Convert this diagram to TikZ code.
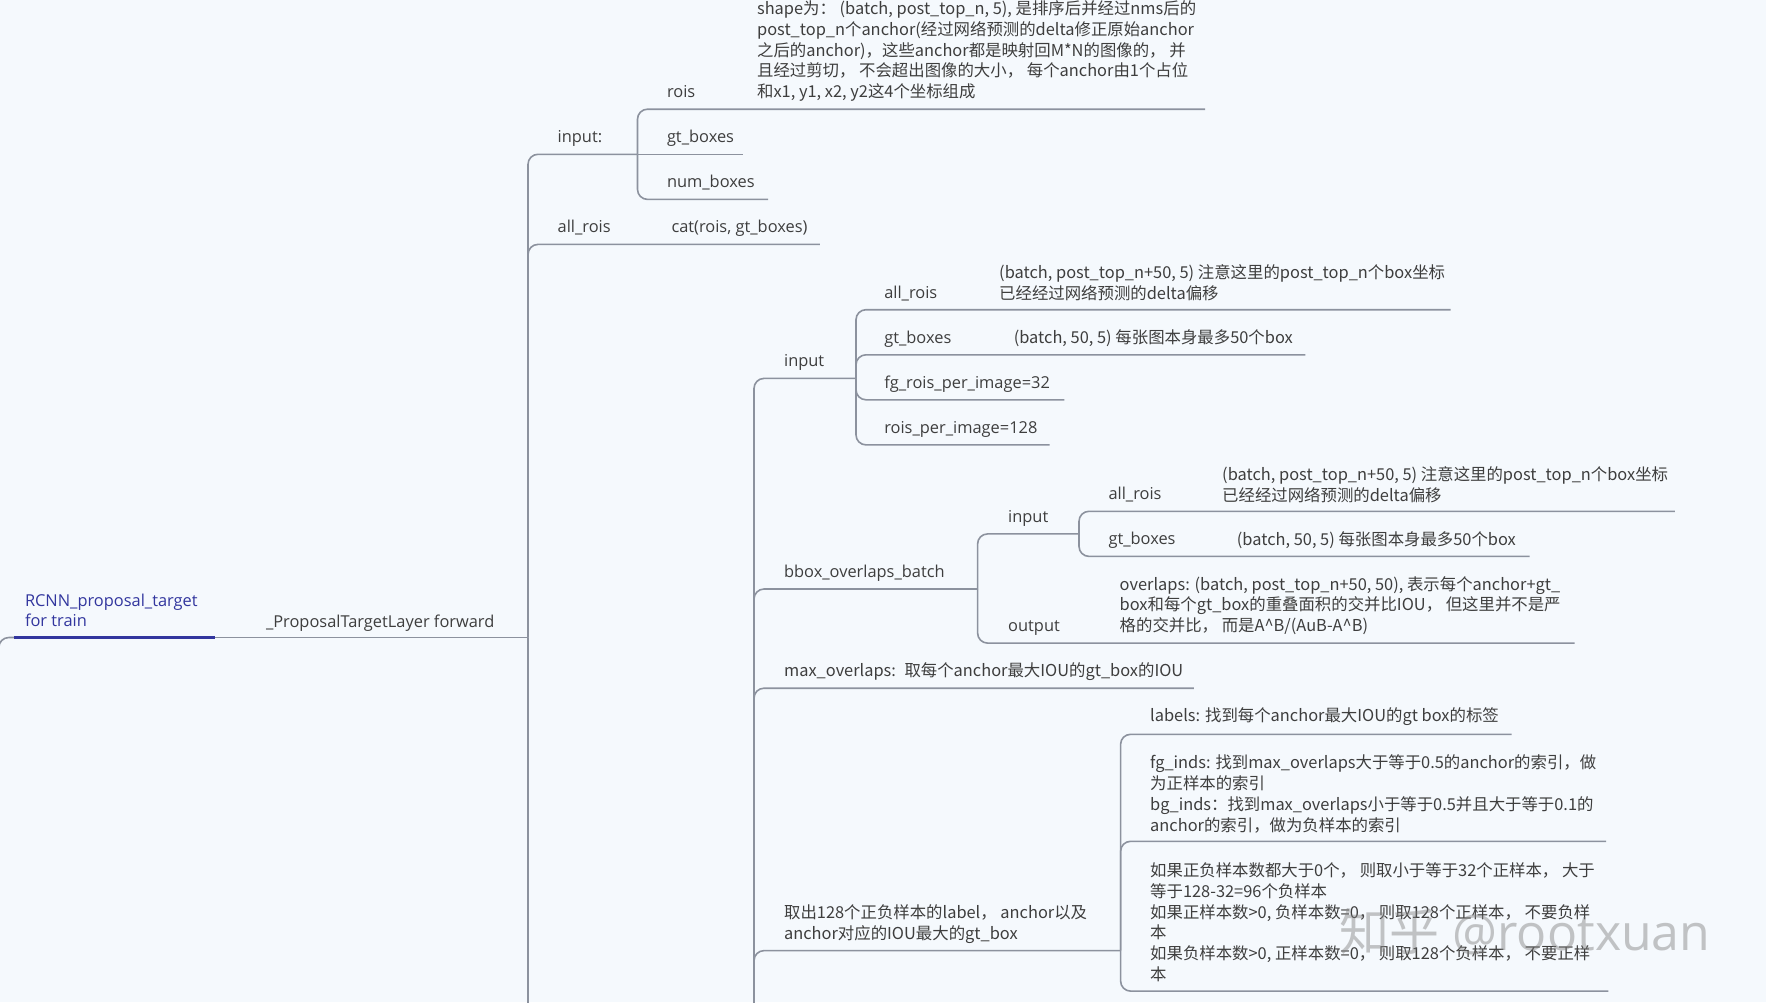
\documentclass[tikz,border=0pt]{standalone}
\usepackage{fontspec}
\setmainfont{Open Sans}
\newfontfamily\cjk{Noto Sans CJK SC}
\usetikzlibrary{positioning}
\definecolor{bgc}{RGB}{245,249,253}
\definecolor{lnk}{RGB}{140,146,158}
\definecolor{txt}{RGB}{62,62,62}
\definecolor{rootblue}{RGB}{50,54,158}

\begin{document}
\begin{tikzpicture}[x=1pt, y=-1pt,
  lbl/.style={anchor=west, inner sep=0pt, text=txt, font=\fontsize{16.4}{20.8}\selectfont, text height=13.5pt, text depth=0.5pt},
  zh/.style={anchor=west, inner sep=0pt, text=txt, align=left, yshift=-1.5pt, font=\cjk\fontsize{16.4}{20.8}\selectfont},
  rootlbl/.style={anchor=west, inner sep=0pt, text=rootblue, align=left, font=\fontsize{16.4}{20.3}\selectfont},
  wmark/.style={inner sep=0pt, text=gray, opacity=0.45, font=\fontsize{50}{50}\selectfont},
  link/.style={draw=lnk, line width=1.6pt, rounded corners=10pt},
  rootline/.style={draw=rootblue, line width=2.6pt}
]

\fill[bgc] (0,0) rectangle (1766,1002);
\useasboundingbox (0,0) rectangle (1766,1002);

% junctions of the branches
\foreach \n/\x/\y in {jroot/-1.2/1010, jfwd/528/637.5, jin/637.5/154.3, jbig/754/1010,
    jin2/856/378.4, jbbox/977.6/589, jin3/1079/533.9, jpick/1120.6/950.6}
  \coordinate (\n) at (\x,\y);

% right ends of the underlines
\foreach \n/\x/\y in {root-w/14/637.5, root-e/215/637.5, fwd-s/528/1010,
    rois-e/1205/109.2, gtb-e/743.3/154.3, numb-e/768.1/199.4, cat-e/819.9/244.4,
    allr2-e/1450.6/309.7, gtb2-e/1305.4/354.8, fgpi-e/1064.3/399.8, rpi-e/1049.7/444.9,
    allr3-e/1674.8/511.3, gtb3-e/1529.5/556.4, outp-e/1574.5/643.1, maxov-e/1193.9/688.2,
    lab-e/1511.5/734.3, fgbg-e/1606.1/841.3, cases-e/1608.3/991.1}
  \coordinate (\n) at (\x,\y);

\foreach \j/\e in {jroot/root-w, jfwd/jin, jfwd/cat-e, jin/rois-e, jin/numb-e,
    jbig/jin2, jbig/jbbox, jbig/maxov-e, jbig/jpick,
    jin2/allr2-e, jin2/gtb2-e, jin2/fgpi-e, jin2/rpi-e,
    jbbox/jin3, jbbox/outp-e, jin3/allr3-e, jin3/gtb3-e,
    jpick/lab-e, jpick/fgbg-e, jpick/cases-e}
  \draw[link] (\j) |- (\e);
\draw[link] (jin) -- (gtb-e);
\draw[link] (root-e) -- (jfwd);
\draw[link] (jfwd) -- (fwd-s);
\draw[rootline] (root-w) -- (root-e);

\node[rootlbl] (root) at (24.8,610.5) {RCNN\_proposal\_target\\for train};
\node[lbl] (fwd) at (265.8,620.6) {\_ProposalTargetLayer forward};

\node[lbl] (in1) at (557.5,136.3) {input:};
\node[lbl] (rois) at (666.8,91.2) {rois};
\node[zh] (roisd) at (756.9,49.6) {shape为： (batch, post\_top\_n, 5), 是排序后并经过nms后的\\
  post\_top\_n个anchor(经过网络预测的delta修正原始anchor\\
  之后的anchor)，这些anchor都是映射回M*N的图像的， 并\\
  且经过剪切， 不会超出图像的大小， 每个anchor由1个占位\\
  和x1, y1, x2, y2这4个坐标组成};
\node[lbl] (gtb) at (666.8,136.3) {gt\_boxes};
\node[lbl] (numb) at (666.8,181.3) {num\_boxes};
\node[lbl] (allr) at (557.5,226.4) {all\_rois};
\node[lbl] (cat) at (671.3,226.4) {cat(rois, gt\_boxes)};

\node[lbl] (in2) at (783.9,360.4) {input};
\node[lbl] (allr2) at (884.1,291.7) {all\_rois};
\node[zh] (allr2d) at (999,281.6) {(batch, post\_top\_n+50, 5) 注意这里的post\_top\_n个box坐标\\已经经过网络预测的delta偏移};
\node[lbl] (gtb2) at (884.1,336.8) {gt\_boxes};
\node[zh] (gtb2d) at (1013.6,336.8) {(batch, 50, 5) 每张图本身最多50个box};
\node[lbl] (fgpi) at (884.1,381.8) {fg\_rois\_per\_image=32};
\node[lbl] (rpi) at (884.1,426.9) {rois\_per\_image=128};

\node[lbl] (bbox) at (783.9,571) {bbox\_overlaps\_batch};
\node[lbl] (in3) at (1008,515.8) {input};
\node[lbl] (allr3) at (1108.3,493.3) {all\_rois};
\node[zh] (allr3d) at (1222,483.2) {(batch, post\_top\_n+50, 5) 注意这里的post\_top\_n个box坐标\\已经经过网络预测的delta偏移};
\node[lbl] (gtb3) at (1108.3,538.4) {gt\_boxes};
\node[zh] (gtb3d) at (1236.7,538.4) {(batch, 50, 5) 每张图本身最多50个box};
\node[lbl] (outp) at (1008,625.1) {output};
\node[zh] (outpd) at (1119.5,604) {overlaps: (batch, post\_top\_n+50, 50), 表示每个anchor+gt\_\\
  box和每个gt\_box的重叠面积的交并比IOU， 但这里并不是严\\
  格的交并比， 而是A\textasciicircum B/(AuB-A\textasciicircum B)};

\node[zh] (maxov) at (783.9,670.1) {max\_overlaps:~ 取每个anchor最大IOU的gt\_box的IOU};

\node[zh] (pick) at (783.9,923) {取出128个正负样本的label， anchor以及\\anchor对应的IOU最大的gt\_box};
\node[zh] (lab) at (1150,715.2) {labels: 找到每个anchor最大IOU的gt box的标签};
\node[zh] (fgbg) at (1150,792.3) {fg\_inds: 找到max\_overlaps大于等于0.5的anchor的索引，做\\
  为正样本的索引\\
  bg\_inds：找到max\_overlaps小于等于0.5并且大于等于0.1的\\
  anchor的索引，做为负样本的索引};
\node[zh] (cases) at (1150,920.8) {如果正负样本数都大于0个， 则取小于等于32个正样本， 大于\\
  等于128-32=96个负样本\\
  如果正样本数>0, 负样本数=0， 则取128个正样本， 不要负样\\
  本\\
  如果负样本数>0, 正样本数=0， 则取128个负样本， 不要正样\\
  本};

\node[wmark] (wm) at (1525,932) {{\cjk 知乎} @rootxuan};

\end{tikzpicture}
\end{document}
